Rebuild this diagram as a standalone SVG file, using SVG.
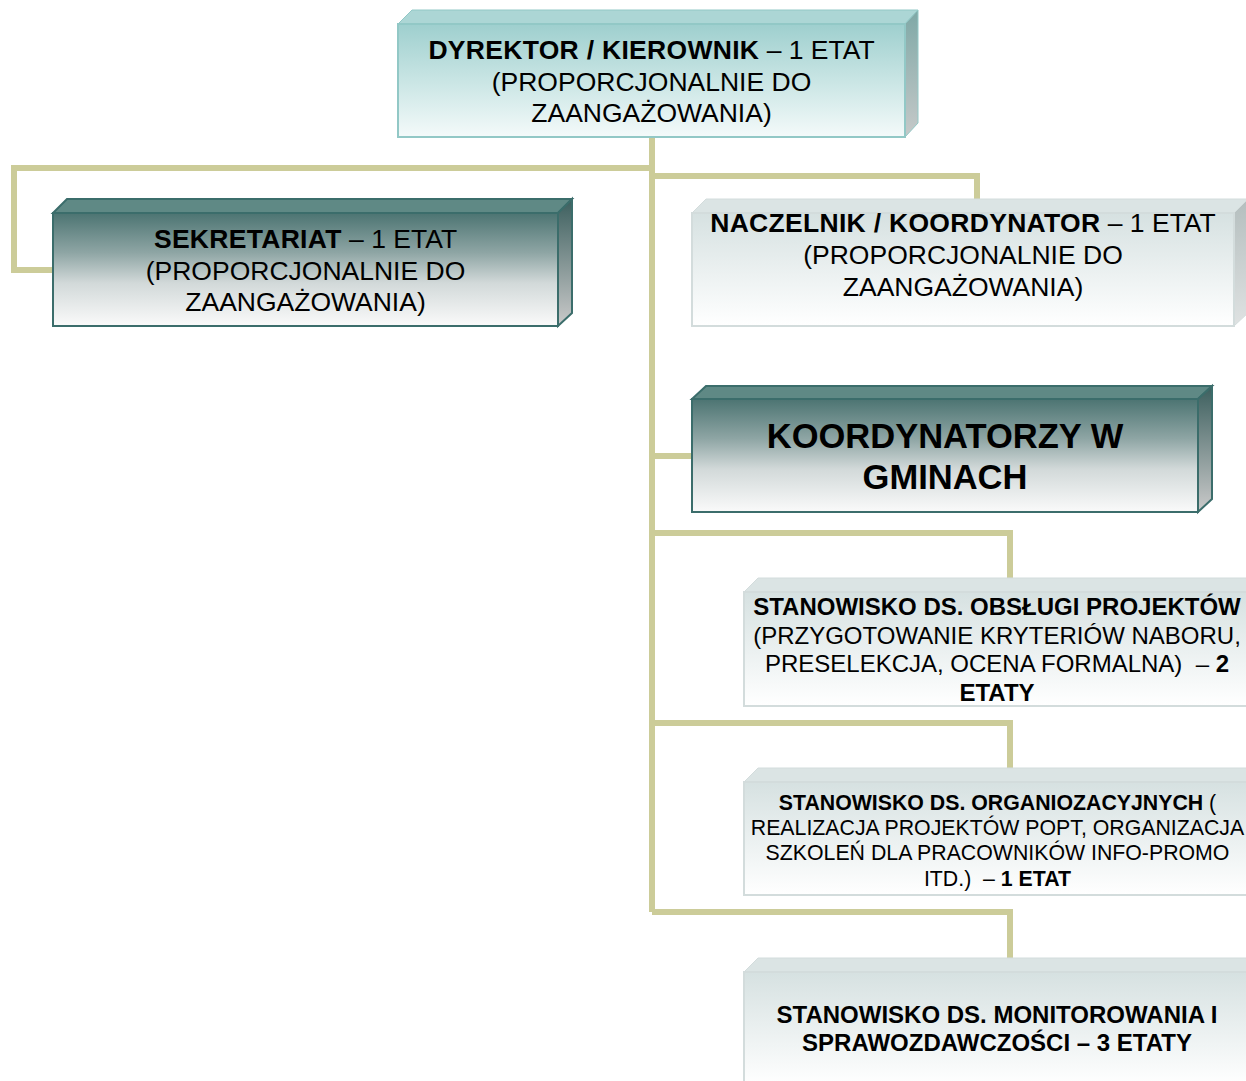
<svg xmlns="http://www.w3.org/2000/svg" width="1246" height="1081" viewBox="0 0 1246 1081">
<defs>
<linearGradient id="gTealFront" x1="0" y1="0" x2="0" y2="1">
<stop offset="0" stop-color="#9ecfce"/><stop offset="0.5" stop-color="#c9e5e4"/><stop offset="1" stop-color="#f4fafa"/>
</linearGradient>
<linearGradient id="gTealSide" x1="0" y1="0" x2="0" y2="1">
<stop offset="0" stop-color="#7ea8a6"/><stop offset="1" stop-color="#c6c9c9"/>
</linearGradient>
<linearGradient id="gDarkFront" x1="0" y1="0" x2="0" y2="1">
<stop offset="0" stop-color="#4c7472"/><stop offset="0.35" stop-color="#8ea5a4"/><stop offset="0.62" stop-color="#d2d9d9"/><stop offset="1" stop-color="#fafafa"/>
</linearGradient>
<linearGradient id="gDarkSide" x1="0" y1="0" x2="0" y2="1">
<stop offset="0" stop-color="#3c5f5e"/><stop offset="1" stop-color="#cacaca"/>
</linearGradient>
<linearGradient id="gGrayFront" x1="0" y1="0" x2="0" y2="1">
<stop offset="0" stop-color="#d6e1e1"/><stop offset="1" stop-color="#ffffff"/>
</linearGradient>
<linearGradient id="gGraySide" x1="0" y1="0" x2="0" y2="1">
<stop offset="0" stop-color="#b4bebe"/><stop offset="1" stop-color="#dfe2e2"/>
</linearGradient>
</defs>
<style>
.conn{fill:none;stroke:#cccc99;stroke-width:6;stroke-linejoin:miter;stroke-linecap:butt}
.tealFront{fill:url(#gTealFront);stroke:#92c8c6;stroke-width:2}
.tealTop{fill:#acd6d5;stroke:#92c8c6;stroke-width:1}
.tealSide{fill:url(#gTealSide);stroke:#92c8c6;stroke-width:1}
.darkFront{fill:url(#gDarkFront);stroke:#3b6d6b;stroke-width:2}
.darkTop{fill:#5f8985;stroke:#3b6d6b;stroke-width:2}
.darkSide{fill:url(#gDarkSide);stroke:#3b6d6b;stroke-width:2}
.grayFront{fill:url(#gGrayFront);stroke:#d3dcdc;stroke-width:2}
.grayTop{fill:#dbe4e4;stroke:#d3dcdc;stroke-width:1}
.graySide{fill:url(#gGraySide);stroke:#d3dcdc;stroke-width:1}
text{font-family:"Liberation Sans",Arial,sans-serif;fill:#000;text-anchor:middle}
.b{font-weight:bold}
.s26{font-size:26.5px}
.s26 .b{letter-spacing:0.3px}
.s34{font-size:34.5px;font-weight:bold}
.s24{font-size:24px}
.s21{font-size:21.3px}
</style>
<g id="connectors">
<polyline class="conn" points="652,137 652,912"/>
<polyline class="conn" points="652,168 14,168 14,270 53,270"/>
<polyline class="conn" points="652,176 977,176 977,200"/>
<polyline class="conn" points="652,456 692,456"/>
<polyline class="conn" points="652,533 1010,533 1010,578"/>
<polyline class="conn" points="652,723 1010,723 1010,768"/>
<polyline class="conn" points="652,912 1010,912 1010,958"/>
</g>
<g id="dyrektor">
<polygon class="tealTop" points="398,24 412,10 918,10 905,24"/>
<polygon class="tealSide" points="905,24 918,10 918,123 905,137"/>
<rect class="tealFront" x="398" y="24" width="507" height="113"/>
<text class="s26" x="651.5" y="59"><tspan class="b">DYREKTOR / KIEROWNIK</tspan> – 1 ETAT</text>
<text class="s26" x="651.5" y="91">(PROPORCJONALNIE DO</text>
<text class="s26" x="651.5" y="122">ZAANGAŻOWANIA)</text>
</g>
<g id="sekretariat">
<polygon class="darkTop" points="53,213 67,199 572,199 558,213"/>
<polygon class="darkSide" points="558,213 572,199 572,313 558,326"/>
<rect class="darkFront" x="53" y="213" width="505" height="113"/>
<text class="s26" x="305.5" y="248"><tspan class="b">SEKRETARIAT</tspan> – 1 ETAT</text>
<text class="s26" x="305.5" y="280">(PROPORCJONALNIE DO</text>
<text class="s26" x="305.5" y="311">ZAANGAŻOWANIA)</text>
</g>
<g id="naczelnik">
<polygon class="grayTop" points="692,213 706,199 1248,199 1234,213"/>
<polygon class="graySide" points="1234,213 1248,199 1248,313 1234,326"/>
<rect class="grayFront" x="692" y="213" width="542" height="113"/>
<text class="s26" x="963" y="232"><tspan class="b">NACZELNIK / KOORDYNATOR</tspan> – 1 ETAT</text>
<text class="s26" x="963" y="264">(PROPORCJONALNIE DO</text>
<text class="s26" x="963" y="296">ZAANGAŻOWANIA)</text>
</g>
<g id="koordynatorzy">
<polygon class="darkTop" points="692,399 706,386 1212,386 1198,399"/>
<polygon class="darkSide" points="1198,399 1212,386 1212,499 1198,512"/>
<rect class="darkFront" x="692" y="399" width="506" height="113"/>
<text class="s34" x="945" y="448">KOORDYNATORZY W</text>
<text class="s34" x="945" y="489">GMINACH</text>
</g>
<g id="obslugi">
<polygon class="grayTop" points="744,592 758,578 1264,578 1250,592"/>
<rect class="grayFront" x="744" y="592" width="506" height="114"/>
<text class="s24" x="997" y="615"><tspan class="b">STANOWISKO DS. OBSŁUGI PROJEKTÓW</tspan></text>
<text class="s24" x="997" y="644">(PRZYGOTOWANIE KRYTERIÓW NABORU,</text>
<text class="s24" x="997" y="672">PRESELEKCJA, OCENA FORMALNA) &#160;– <tspan class="b">2</tspan></text>
<text class="s24 b" x="997" y="701">ETATY</text>
</g>
<g id="organizacyjnych">
<polygon class="grayTop" points="744,782 758,768 1264,768 1250,782"/>
<rect class="grayFront" x="744" y="782" width="506" height="113"/>
<text class="s21" x="997.5" y="810"><tspan class="b">STANOWISKO DS. ORGANIOZACYJNYCH</tspan> (</text>
<text class="s21" x="997.5" y="835">REALIZACJA PROJEKTÓW POPT, ORGANIZACJA</text>
<text class="s21" x="997.5" y="860">SZKOLEŃ DLA PRACOWNIKÓW INFO-PROMO</text>
<text class="s21" x="997.5" y="886">ITD.) &#160;– <tspan class="b">1 ETAT</tspan></text>
</g>
<g id="monitorowania">
<polygon class="grayTop" points="744,972 758,958 1264,958 1250,972"/>
<rect class="grayFront" x="744" y="972" width="506" height="114"/>
<text class="s24 b" x="997" y="1023">STANOWISKO DS. MONITOROWANIA I</text>
<text class="s24 b" x="997" y="1051">SPRAWOZDAWCZOŚCI – 3 ETATY</text>
</g>
</svg>
